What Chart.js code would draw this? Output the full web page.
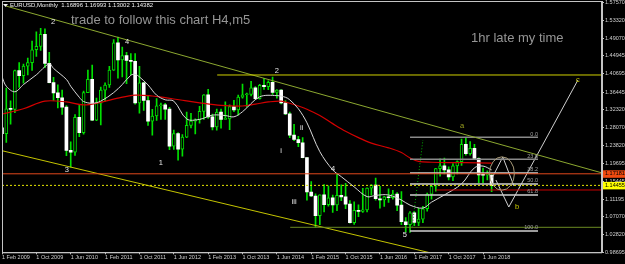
<!DOCTYPE html>
<html>
<head>
<meta charset="utf-8">
<script src="https://cdn.jsdelivr.net/npm/chart.js@4.4.1/dist/chart.umd.min.js"></script>
<style>
  html, body { margin: 0; padding: 0; background: #000; }
  canvas { display: block; }
</style>
</head>
<body>
<canvas id="chart" width="625" height="264"></canvas>
<script>
// EURUSD monthly candles, index 0 = Feb 2009 ... index 114 = Aug 2018
const opens = [
  1.2800, 1.2665, 1.3250, 1.3235, 1.4150, 1.4030, 1.4255, 1.4335, 1.4640, 1.4720, 1.5000,
  1.4320, 1.3865, 1.3625, 1.3510, 1.3290, 1.2270, 1.2230, 1.3050, 1.2685, 1.3630, 1.3940, 1.2980,
  1.3380, 1.3690, 1.3810, 1.4160, 1.4805, 1.4400, 1.4500, 1.4390, 1.4365, 1.3390, 1.3860, 1.3445,
  1.2960, 1.3080, 1.3320, 1.3340, 1.3240, 1.2370, 1.2665, 1.2300, 1.2580, 1.2860, 1.2960, 1.2990,
  1.3190, 1.3580, 1.3060, 1.2820, 1.3170, 1.3000, 1.3010, 1.3300, 1.3220, 1.3525, 1.3580, 1.3590,
  1.3745, 1.3485, 1.3800, 1.3770, 1.3870, 1.3635, 1.3690, 1.3390, 1.3130, 1.2630, 1.2525, 1.2450,
  1.2100, 1.1290, 1.1195, 1.0730, 1.1220, 1.0990, 1.1150, 1.0985, 1.1210, 1.1175, 1.1005, 1.0565,
  1.0860, 1.0830, 1.0870, 1.1380, 1.1450, 1.1130, 1.1105, 1.1175, 1.1155, 1.1240, 1.0980, 1.0590,
  1.0520, 1.0800, 1.0575, 1.0650, 1.0895, 1.1240, 1.1425, 1.1840, 1.1905, 1.1810, 1.1645, 1.1905,
  1.2005, 1.2415, 1.2195, 1.2320, 1.2080, 1.1690, 1.1685, 1.16896
];
const highs = [
  1.3015, 1.3738, 1.3435, 1.4160, 1.4340, 1.4305, 1.4445, 1.4843, 1.5060, 1.5144, 1.5130,
  1.4580, 1.3990, 1.3815, 1.3690, 1.3325, 1.2470, 1.3110, 1.3335, 1.3665, 1.4160, 1.4280, 1.3500,
  1.3760, 1.3860, 1.4250, 1.4880, 1.4940, 1.4700, 1.4580, 1.4550, 1.4550, 1.4250, 1.3870, 1.3550,
  1.3235, 1.3490, 1.3385, 1.3380, 1.3285, 1.2750, 1.2690, 1.2640, 1.3170, 1.3140, 1.3010, 1.3310,
  1.3585, 1.3710, 1.3125, 1.3240, 1.3240, 1.3415, 1.3345, 1.3450, 1.3570, 1.3830, 1.3620, 1.3893,
  1.3775, 1.3825, 1.3965, 1.3905, 1.3993, 1.3700, 1.3700, 1.3445, 1.3170, 1.2885, 1.2600, 1.2570,
  1.2105, 1.1535, 1.1245, 1.1225, 1.1465, 1.1435, 1.1215, 1.1714, 1.1460, 1.1495, 1.1090, 1.1060,
  1.0990, 1.1375, 1.1385, 1.1465, 1.1615, 1.1425, 1.1185, 1.1365, 1.1330, 1.1275, 1.1300, 1.0690,
  1.0830, 1.0830, 1.0905, 1.0950, 1.1265, 1.1445, 1.1845, 1.2070, 1.2090, 1.1880, 1.1960, 1.2025,
  1.2537, 1.2555, 1.2475, 1.2415, 1.2095, 1.1850, 1.1790, 1.16993
];
const lows = [
  1.2510, 1.2457, 1.2885, 1.3160, 1.3750, 1.3850, 1.4045, 1.4155, 1.4485, 1.4625, 1.4220,
  1.3860, 1.3445, 1.3270, 1.3115, 1.2145, 1.1876, 1.2150, 1.2590, 1.2650, 1.3630, 1.2970, 1.2970,
  1.2870, 1.3430, 1.3750, 1.4150, 1.3970, 1.4000, 1.3840, 1.4050, 1.3360, 1.3145, 1.3210, 1.2860,
  1.2625, 1.2975, 1.3000, 1.3000, 1.2285, 1.2290, 1.2040, 1.2135, 1.2570, 1.2800, 1.2660, 1.2910,
  1.3000, 1.3020, 1.2750, 1.2745, 1.2795, 1.3000, 1.2755, 1.3180, 1.3100, 1.3500, 1.3295, 1.3550,
  1.3480, 1.3475, 1.3705, 1.3700, 1.3590, 1.3500, 1.3365, 1.3110, 1.2570, 1.2500, 1.2360, 1.2095,
  1.1098, 1.1180, 1.0462, 1.0520, 1.0820, 1.0955, 1.0810, 1.0850, 1.1085, 1.0895, 1.0555, 1.0525,
  1.0710, 1.0810, 1.0820, 1.1215, 1.1100, 1.0910, 1.0950, 1.1045, 1.1120, 1.0850, 1.0520, 1.0352,
  1.0340, 1.0495, 1.0495, 1.0570, 1.0840, 1.1120, 1.1310, 1.1665, 1.1715, 1.1575, 1.1555, 1.1715,
  1.1915, 1.2155, 1.2155, 1.2055, 1.1510, 1.1510, 1.1575, 1.13002
];
const closes = [
  1.2665, 1.3250, 1.3235, 1.4150, 1.4030, 1.4255, 1.4335, 1.4640, 1.4720, 1.5000, 1.4320,
  1.3865, 1.3625, 1.3510, 1.3290, 1.2270, 1.2230, 1.3050, 1.2685, 1.3630, 1.3940, 1.2980, 1.3380,
  1.3690, 1.3810, 1.4160, 1.4805, 1.4400, 1.4500, 1.4390, 1.4365, 1.3390, 1.3860, 1.3445, 1.2960,
  1.3080, 1.3320, 1.3340, 1.3240, 1.2370, 1.2665, 1.2300, 1.2580, 1.2860, 1.2960, 1.2990, 1.3190,
  1.3580, 1.3060, 1.2820, 1.3170, 1.3000, 1.3010, 1.3300, 1.3220, 1.3525, 1.3580, 1.3590, 1.3745,
  1.3485, 1.3800, 1.3770, 1.3870, 1.3635, 1.3690, 1.3390, 1.3130, 1.2630, 1.2525, 1.2450, 1.2100,
  1.1290, 1.1195, 1.0730, 1.1220, 1.0990, 1.1150, 1.0985, 1.1210, 1.1175, 1.1005, 1.0565, 1.0860,
  1.0830, 1.0870, 1.1380, 1.1450, 1.1130, 1.1105, 1.1175, 1.1155, 1.1240, 1.0980, 1.0590, 1.0520,
  1.0800, 1.0575, 1.0650, 1.0895, 1.1240, 1.1425, 1.1840, 1.1905, 1.1810, 1.1645, 1.1905, 1.2005,
  1.2415, 1.2195, 1.2320, 1.2080, 1.1690, 1.1685, 1.1690, 1.14382
];

// fast (white) moving average
const maFastX = [0, 1, 3, 5, 8, 11, 12, 15, 16, 18, 19, 21, 23, 26, 28, 30, 31, 32, 34, 36, 38, 40,
  43, 46, 49, 52, 54, 56, 60, 64, 66, 67, 69, 71, 74, 77, 79, 82, 85, 87, 90, 93, 95, 98, 100, 103,
  107, 110, 112, 114];
const maFastY = [1.4005, 1.378, 1.365, 1.382, 1.405, 1.431, 1.420, 1.394, 1.378, 1.352, 1.342, 1.338,
  1.343, 1.363, 1.382, 1.404, 1.406, 1.400, 1.381, 1.357, 1.346, 1.343, 1.301, 1.300, 1.310, 1.309,
  1.306, 1.318, 1.353, 1.356, 1.352, 1.346, 1.325, 1.292, 1.224, 1.181, 1.165, 1.141, 1.118, 1.121,
  1.122, 1.110, 1.098, 1.091, 1.105, 1.122, 1.148, 1.186, 1.190, 1.181];

// slow (red) moving average
const maSlowX = [0, 5, 10, 15, 19, 23, 27, 31, 35, 38, 42, 46, 51, 56, 59, 62, 65, 67, 69, 71, 74,
  77, 80, 83, 86, 90, 93, 95, 97, 100, 104, 108, 114];
const maSlowY = [1.3126, 1.325, 1.343, 1.341, 1.334, 1.340, 1.350, 1.357, 1.355, 1.351, 1.345, 1.339,
  1.333, 1.3315, 1.336, 1.341, 1.343, 1.338, 1.3315, 1.324, 1.309, 1.290, 1.272, 1.257, 1.244, 1.233,
  1.222, 1.209, 1.201, 1.199, 1.198, 1.198, 1.197];

// drawn objects
const upperTrendX = [0.9, 139.7];
const upperTrendY = [1.5670, 1.1739];
const lowerTrendX = [0, 100];
const lowerTrendY = [1.2262, 0.9850];
const hLevels = [1.4045, 1.17181, 1.14455, 1.1337, 1.0458];
const hStarts = [50.1, 0, 0, 101.0, 67.1];

const fibLabels = ['0.0', '23.6', '38.2', '50.0', '61.8', '100.0'];
const fibPrices = [1.2578, 1.2059, 1.1738, 1.1478, 1.1218, 1.0371];
const fibRange = [95.0, 124.8];
const fibTrendX = [95.5, 98.0];
const fibTrendY = [1.0472, 1.2514];

const pathAX = [114.1, 116.6, 119.2];
const pathAY = [1.1619, 1.2114, 1.1431];
const pathBX = [115.0, 118.0, 134.1];
const pathBY = [1.1572, 1.0936, 1.3927];
const ellipseC = [116.4, 1.1725];
const ellipseR = [2.9, 0.0393];

const waveText = ['2', '4', '2', '3', '1', 'i', 'ii', 'iii', '4', '5', 'a', 'b', 'c'];
const waveX = [11.9, 29.1, 64.0, 15.1, 37.0, 65.0, 69.8, 68.0, 77.1, 93.8, 107.1, 119.9, 134.1];
const waveY = [1.5293, 1.4822, 1.4139, 1.1808, 1.1972, 1.2255, 1.2797, 1.1054, 1.1831, 1.0277, 1.2851, 1.0936, 1.3927];

// axes
const xTickIdx = [0, 8, 16, 24, 32, 40, 48, 56, 64, 72, 80, 88, 96, 104, 112];
const xTickLabels = ['1 Feb 2009', '1 Oct 2009', '1 Jun 2010', '1 Feb 2011', '1 Oct 2011', '1 Jun 2012',
  '1 Feb 2013', '1 Oct 2013', '1 Jun 2014', '1 Feb 2015', '1 Oct 2015', '1 Jun 2016', '1 Feb 2017',
  '1 Oct 2017', '1 Jun 2018'];
const yTicks = [1.57570, 1.53320, 1.49070, 1.44945, 1.40695, 1.36445, 1.32320, 1.28070, 1.23820,
  1.19695, 1.15445, 1.11195, 1.07070, 1.02820, 0.98695];

const LIME = '#00e000';
const FONT = 'Arial, "Liberation Sans", sans-serif';

function line(xs, ys, color, extra) {
  return Object.assign({
    type: 'line',
    data: xs.map((v, i) => ({ x: v, y: ys[i] })),
    borderColor: color,
    borderWidth: 1,
    pointRadius: 0,
    fill: false,
    tension: 0,
    order: 0
  }, extra || {});
}

const hColors = ['#d0d000', '#e0481c', '#e6e600', '#c80000', '#6b8a22'];
const datasets = [];

// candles: wicks then bodies
datasets.push({
  type: 'bar',
  data: opens.map((o, i) => ({ x: i, y: [lows[i], highs[i]] })),
  backgroundColor: LIME,
  barThickness: 1,
  grouped: false,
  order: 5
});
datasets.push({
  type: 'bar',
  data: opens.map((o, i) => ({ x: i, y: [o, closes[i]] })),
  backgroundColor: c => closes[c.dataIndex] >= opens[c.dataIndex] ? '#000' : '#fff',
  borderColor: LIME,
  borderWidth: c => closes[c.dataIndex] >= opens[c.dataIndex] ? 1 : 0,
  borderSkipped: false,
  barThickness: 3,
  minBarLength: 1,
  grouped: false,
  order: 4
});

datasets.push(line(maSlowX, maSlowY, '#d40000', { tension: 0.35, borderWidth: 1.2, order: 3 }));
datasets.push(line(maFastX, maFastY, '#d8d8d8', { tension: 0.35, order: 2 }));

hLevels.forEach((lv, i) => {
  datasets.push(line([hStarts[i], 139.7], [lv, lv], hColors[i],
    i === 2 ? { borderDash: [2, 2] } : {}));
});
datasets.push(line(upperTrendX, upperTrendY, '#8ca830'));
datasets.push(line(lowerTrendX, lowerTrendY, '#c4c400'));

fibPrices.forEach((p, i) => {
  datasets.push(line(fibRange, [p, p], i < 2 ? '#8a8a8a' : '#d0d0d0', { borderWidth: 1.5 }));
});
datasets.push(line(fibTrendX, fibTrendY, '#00b000', { borderDash: [1, 2] }));
datasets.push(line(pathAX, pathAY, '#d0d0d0'));
datasets.push(line(pathBX, pathBY, '#d0d0d0'));

const overlay = {
  id: 'overlay',
  beforeDraw(chart) {
    const ctx = chart.ctx;
    ctx.save();
    ctx.fillStyle = '#000';
    ctx.fillRect(0, 0, chart.width, chart.height);
    ctx.restore();
  },
  afterDatasetsDraw(chart) {
    const { ctx, chartArea: a } = chart;
    const x = chart.scales.x, y = chart.scales.y;
    ctx.save();
    ctx.beginPath();
    ctx.rect(a.left, a.top, a.right - a.left, a.bottom - a.top);
    ctx.clip();

    // circle round the projected move
    const cx = x.getPixelForValue(ellipseC[0]);
    const cy = y.getPixelForValue(ellipseC[1]);
    const rx = Math.abs(x.getPixelForValue(ellipseC[0] + ellipseR[0]) - cx);
    const ry = Math.abs(y.getPixelForValue(ellipseC[1] + ellipseR[1]) - cy);
    ctx.beginPath();
    ctx.ellipse(cx, cy, rx, ry, 0, 0, Math.PI * 2);
    ctx.strokeStyle = '#a89a78';
    ctx.lineWidth = 1;
    ctx.stroke();

    // wave counts
    ctx.font = '7.5px ' + FONT;
    ctx.textAlign = 'center';
    ctx.textBaseline = 'middle';
    waveText.forEach((t, i) => {
      ctx.fillStyle = i === 10 ? '#9aa020' : (i > 10 ? '#c8c800' : '#e6e6e6');
      ctx.fillText(t, x.getPixelForValue(waveX[i]), y.getPixelForValue(waveY[i]));
    });

    // fibo level captions
    ctx.font = '5.5px ' + FONT;
    ctx.textAlign = 'right';
    ctx.textBaseline = 'bottom';
    ctx.fillStyle = '#a0a0a0';
    fibLabels.forEach((t, i) => {
      ctx.fillText(t, x.getPixelForValue(fibRange[1]), y.getPixelForValue(fibPrices[i]) - 0.5);
    });

    // comments
    ctx.font = '13px ' + FONT;
    ctx.textAlign = 'left';
    ctx.textBaseline = 'middle';
    ctx.fillStyle = '#959595';
    ctx.fillText('trade to follow this chart H4,m5', 71, 20);
    ctx.fillText('1hr late my time', 471, 38);

    // header
    ctx.font = '6px ' + FONT;
    ctx.fillStyle = '#f0f0f0';
    ctx.fillText('EURUSD,Monthly  1.16896 1.16993 1.13002 1.14382', 10, 5.5);
    ctx.beginPath();
    ctx.moveTo(3, 4); ctx.lineTo(8, 4); ctx.lineTo(5.5, 7); ctx.closePath();
    ctx.fill();
    ctx.restore();

    // frame
    ctx.save();
    ctx.strokeStyle = '#c4c4c4';
    ctx.lineWidth = 1;
    ctx.strokeRect(a.left + 0.5, a.top + 0.5, a.right - a.left - 1, a.bottom - a.top);
    ctx.restore();
  },
  afterDraw(chart) {
    const { ctx, chartArea: a } = chart;
    const y = chart.scales.y;
    const boxes = [[hLevels[1], '#f04a10'], [hLevels[2], '#ffff00']];
    ctx.save();
    ctx.font = '5.5px ' + FONT;
    ctx.textAlign = 'left';
    ctx.textBaseline = 'middle';
    boxes.forEach(([v, col]) => {
      const py = y.getPixelForValue(v);
      ctx.fillStyle = col;
      ctx.fillRect(a.right + 1, py - 3.5, 22, 7.5);
      ctx.fillStyle = '#000';
      ctx.fillText(v.toFixed(5), a.right + 3, py);
    });
    ctx.restore();
  }
};

new Chart(document.getElementById('chart'), {
  type: 'bar',
  data: { datasets: datasets },
  options: {
    responsive: false,
    animation: false,
    devicePixelRatio: 1,
    events: [],
    layout: { padding: { left: 2, top: 1, right: 0, bottom: 0 } },
    plugins: { legend: { display: false }, tooltip: { enabled: false } },
    scales: {
      x: {
        type: 'linear',
        min: 0,
        max: 139.7,
        offset: false,
        grid: { offset: false, drawOnChartArea: false, tickLength: 2, color: '#c4c4c4' },
        border: { color: '#c4c4c4' },
        ticks: {
          autoSkip: false,
          maxRotation: 0,
          align: 'start',
          padding: 0,
          color: '#d0d0d0',
          font: { size: 5.5, family: FONT },
          callback: (v, i) => xTickLabels[i]
        },
        afterBuildTicks: s => { s.ticks = xTickIdx.map(v => ({ value: v })); },
        afterFit: s => { s.height = 11.7; s.paddingLeft = 0; s.paddingRight = 0; }
      },
      y: {
        position: 'right',
        min: 0.98695,
        max: 1.57876,
        grid: { drawOnChartArea: false, tickLength: 2, color: '#c4c4c4' },
        border: { color: '#c4c4c4' },
        ticks: {
          padding: 1,
          color: '#d0d0d0',
          font: { size: 5.5, family: FONT },
          callback: v => v.toFixed(5)
        },
        afterBuildTicks: s => { s.ticks = yTicks.map(v => ({ value: v })); },
        afterFit: s => { s.width = 23; s.paddingTop = 0; s.paddingBottom = 0; }
      }
    }
  },
  plugins: [overlay]
});
</script>
</body>
</html>
